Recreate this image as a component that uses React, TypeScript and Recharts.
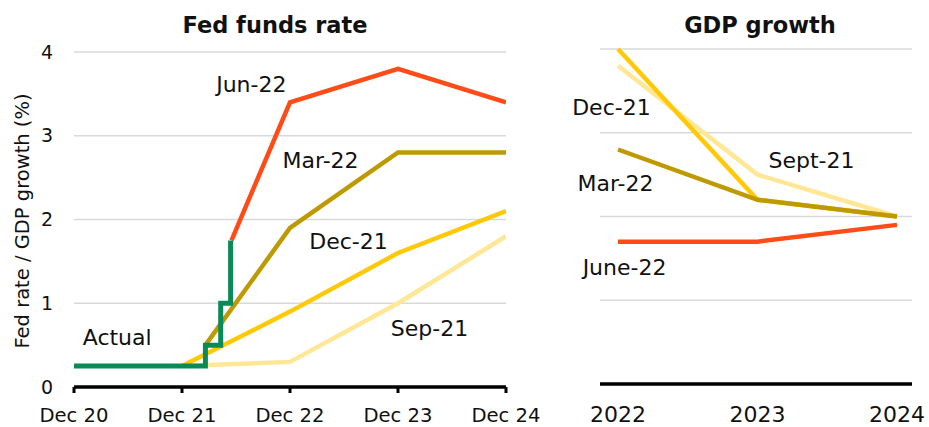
import React from 'react';
import { LineChart, Line, XAxis, YAxis, CartesianGrid, ReferenceDot } from 'recharts';

const FONT = '"DejaVu Sans", sans-serif';
const INK = '#111111';

const C_JUN22 = '#FF4B18';
const C_MAR22 = '#BF9900';
const C_DEC21 = '#FFC907';
const C_SEP21 = '#FFE796';
const C_ACTUAL = '#0A8A58';

// ---- Fed funds rate (x = months since Dec 2020) ----
const fedTickMonths = [0, 12, 24, 36, 48];
const fedTickLabels = ['Dec 20', 'Dec 21', 'Dec 22', 'Dec 23', 'Dec 24'];
const rateTicks = [0, 1, 2, 3, 4];

const fedActual = [
  { m: 0, v: 0.25 },
  { m: 14.6, v: 0.5 },
  { m: 16.3, v: 1.0 },
  { m: 17.4, v: 1.75 },
];
const fedSep21 = [
  { m: 12, v: 0.25 },
  { m: 24, v: 0.3 },
  { m: 36, v: 1.0 },
  { m: 48, v: 1.8 },
];
const fedDec21 = [
  { m: 12, v: 0.25 },
  { m: 24, v: 0.9 },
  { m: 36, v: 1.6 },
  { m: 48, v: 2.1 },
];
const fedMar22 = [
  { m: 14.6, v: 0.5 },
  { m: 24, v: 1.9 },
  { m: 36, v: 2.8 },
  { m: 48, v: 2.8 },
];
const fedJun22 = [
  { m: 17.5, v: 1.75 },
  { m: 24, v: 3.4 },
  { m: 36, v: 3.8 },
  { m: 48, v: 3.4 },
];
const fedLabels = [
  { text: 'Actual', m: 4.8, v: 0.59 },
  { text: 'Jun-22', m: 19.7, v: 3.62 },
  { text: 'Mar-22', m: 27.4, v: 2.71 },
  { text: 'Dec-21', m: 30.5, v: 1.74 },
  { text: 'Sep-21', m: 39.5, v: 0.7 },
];

// ---- GDP growth ----
const gdpYears = [2022, 2023, 2024];
const gdpSep21 = [3.8, 2.5, 2.0];
const gdpDec21 = [4.0, 2.2, 2.0];
const gdpMar22 = [2.8, 2.2, 2.0];
const gdpJun22 = [1.7, 1.7, 1.9];
const gdpLabels = [
  { text: 'Dec-21', year: 2021.953, v: 3.31 },
  { text: 'Sept-21', year: 2023.387, v: 2.67 },
  { text: 'Mar-22', year: 2021.982, v: 2.4 },
  { text: 'June-22', year: 2022.047, v: 1.4 },
];

const gdpRows = gdpYears.map((year, i) => ({
  year,
  sep21: gdpSep21[i],
  dec21: gdpDec21[i],
  mar22: gdpMar22[i],
  jun22: gdpJun22[i],
}));

const LW = 4.5;

const labelStyle = (value: string) => ({
  value,
  position: 'center' as const,
  fontSize: 22,
  fill: INK,
  fontFamily: FONT,
});

export default function App() {
  return (
    <div style={{ position: 'absolute', left: 0, top: 0, width: 929, height: 427, background: '#fff', overflow: 'hidden' }}>
      <div style={{ position: 'absolute', left: 0, top: 0 }}>
        <LineChart width={570} height={440} margin={{ top: 52, right: 64, bottom: 23, left: 34 }}>
          <CartesianGrid vertical={false} stroke="#d9d9d9" strokeWidth={1.5} />
          <XAxis
            dataKey="m"
            type="number"
            domain={[0, 48]}
            ticks={fedTickMonths}
            allowDataOverflow
            tickFormatter={(t: number) => fedTickLabels[fedTickMonths.indexOf(t)]}
            axisLine={{ stroke: '#000', strokeWidth: 3.5 }}
            tickLine={{ stroke: '#000', strokeWidth: 3 }}
            tickSize={6}
            tickMargin={15}
            tick={{ fontSize: 19.6, fill: INK, fontFamily: FONT }}
            height={30}
          />
          <YAxis
            type="number"
            domain={[0, 4]}
            ticks={rateTicks}
            width={40}
            axisLine={false}
            tickLine={false}
            tickSize={0}
            tickMargin={21}
            tick={{ fontSize: 19, fill: INK, fontFamily: FONT }}
          />
          <Line data={fedSep21} dataKey="v" stroke={C_SEP21} strokeWidth={LW} dot={false} isAnimationActive={false} />
          <Line data={fedDec21} dataKey="v" stroke={C_DEC21} strokeWidth={LW} dot={false} isAnimationActive={false} />
          <Line data={fedMar22} dataKey="v" stroke={C_MAR22} strokeWidth={LW} dot={false} isAnimationActive={false} />
          <Line data={fedJun22} dataKey="v" stroke={C_JUN22} strokeWidth={LW} dot={false} isAnimationActive={false} />
          <Line
            data={fedActual}
            dataKey="v"
            type="stepAfter"
            stroke={C_ACTUAL}
            strokeWidth={5}
            dot={false}
            isAnimationActive={false}
          />
          {fedLabels.map((l) => (
            <ReferenceDot
              key={l.text}
              x={l.m}
              y={l.v}
              r={0}
              fill="none"
              stroke="none"
              ifOverflow="visible"
              label={labelStyle(l.text)}
            />
          ))}
        </LineChart>
      </div>
      <div style={{ position: 'absolute', left: 520, top: 0 }}>
        <LineChart width={409} height={440} data={gdpRows} margin={{ top: 49, right: 17, bottom: 26, left: 80 }}>
          <CartesianGrid vertical={false} stroke="#d9d9d9" strokeWidth={1.5} />
          <XAxis
            dataKey="year"
            type="number"
            domain={[2022, 2024]}
            ticks={gdpYears}
            padding={{ left: 18, right: 15 }}
            axisLine={{ stroke: '#000', strokeWidth: 3.5 }}
            tickLine={false}
            tickSize={0}
            tickMargin={22}
            tick={{ fontSize: 22, fill: INK, fontFamily: FONT }}
            height={30}
          />
          <YAxis type="number" domain={[0, 4]} ticks={rateTicks} hide />
          <Line dataKey="sep21" stroke={C_SEP21} strokeWidth={LW} dot={false} isAnimationActive={false} />
          <Line dataKey="dec21" stroke={C_DEC21} strokeWidth={LW} dot={false} isAnimationActive={false} />
          <Line dataKey="mar22" stroke={C_MAR22} strokeWidth={LW} dot={false} isAnimationActive={false} />
          <Line dataKey="jun22" stroke={C_JUN22} strokeWidth={LW} dot={false} isAnimationActive={false} />
          {gdpLabels.map((l) => (
            <ReferenceDot
              key={l.text}
              x={l.year}
              y={l.v}
              r={0}
              fill="none"
              stroke="none"
              ifOverflow="visible"
              label={labelStyle(l.text)}
            />
          ))}
        </LineChart>
      </div>
      <svg
        width={929}
        height={427}
        style={{ position: 'absolute', left: 0, top: 0, pointerEvents: 'none' }}
      >
        <text x={275} y={33} textAnchor="middle" fontWeight="bold" fontSize={22.5} fill={INK} fontFamily={FONT}>
          Fed funds rate
        </text>
        <text x={760} y={33} textAnchor="middle" fontWeight="bold" fontSize={22.5} fill={INK} fontFamily={FONT}>
          GDP growth
        </text>
        <text
          transform="translate(29,221) rotate(-90)"
          x={0}
          y={0}
          textAnchor="middle"
          fontSize={19.5}
          fill={INK}
          fontFamily={FONT}
        >
          Fed rate / GDP growth (%)
        </text>
      </svg>
    </div>
  );
}
